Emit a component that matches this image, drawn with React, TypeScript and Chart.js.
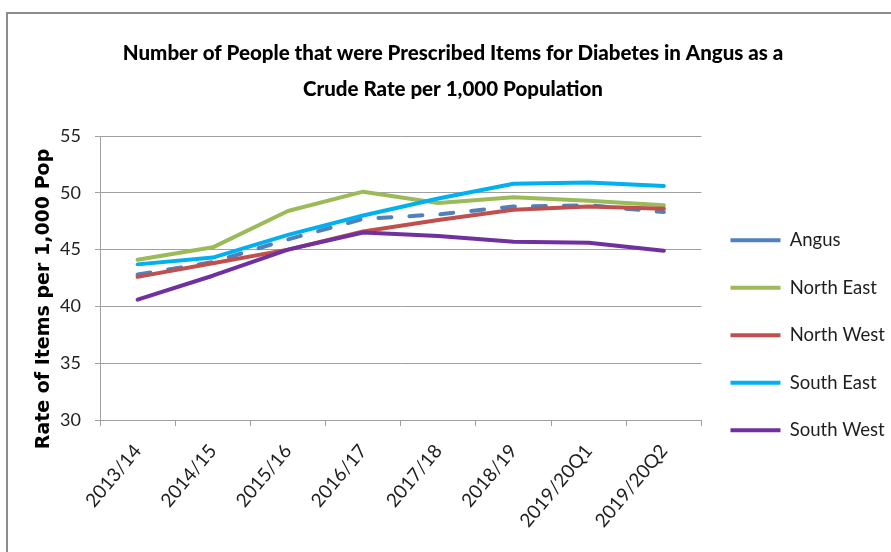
import React, { useEffect, useRef } from "react";
import { Chart, registerables } from "chart.js";

Chart.register(...registerables);

// Reporting periods on the category axis
const periods = [
  "2013/14",
  "2014/15",
  "2015/16",
  "2016/17",
  "2017/18",
  "2018/19",
  "2019/20Q1",
  "2019/20Q2",
];

// Crude rate per 1,000 population, by area
const angus = [42.8, 43.9, 45.9, 47.7, 48.1, 48.8, 48.9, 48.3];
const northEast = [44.1, 45.2, 48.4, 50.1, 49.1, 49.6, 49.3, 48.9];
const northWest = [42.6, 43.8, 45.0, 46.6, 47.6, 48.5, 48.8, 48.6];
const southEast = [43.7, 44.3, 46.3, 48.0, 49.5, 50.8, 50.9, 50.6];
const southWest = [40.6, 42.7, 45.0, 46.5, 46.2, 45.7, 45.6, 44.9];

const yTicks = { min: 30, max: 55, step: 5 };

const titleLines = [
  "Number of People that were Prescribed Items for Diabetes in Angus as a",
  "Crude Rate per 1,000 Population",
];
const yTitle = "Rate of Items per 1,000 Pop";

const SANS = "Lato, 'Noto Sans', sans-serif";
const GRID = "#a0a0a0";
const TEXT = "#1e1e1e";

// White page with a grey outline around the chart
const framePlugin = {
  id: "frame",
  beforeDraw(chart: Chart) {
    const { ctx, width, height } = chart;
    ctx.save();
    ctx.fillStyle = "#ffffff";
    ctx.fillRect(0, 0, width, height);
    ctx.strokeStyle = "#8c8c8c";
    ctx.lineWidth = 2;
    ctx.strokeRect(7, 13, width + 20, height + 20);
    ctx.restore();
  },
};

// Vertical caption for the value axis, set a little below the axis middle
const yCaptionPlugin = {
  id: "yCaption",
  afterDraw(chart: Chart) {
    const { ctx, chartArea } = chart;
    const y = chart.scales.y;
    ctx.save();
    ctx.translate(y.left + 33, (chartArea.top + chartArea.bottom) / 2 + 21);
    ctx.rotate(-Math.PI / 2);
    ctx.fillStyle = "#000";
    ctx.font = "bold 19px 'DejaVu Sans', sans-serif";
    ctx.textAlign = "center";
    ctx.textBaseline = "middle";
    ctx.fillText(yTitle, 0, 0);
    ctx.restore();
  },
};

function series(label: string, data: number[], color: string, order: number, dash: number[] = []) {
  return {
    label,
    data,
    borderColor: color,
    backgroundColor: color,
    borderWidth: 4,
    borderDash: dash,
    borderCapStyle: "round" as const,
    borderJoinStyle: "round" as const,
    pointRadius: 0,
    pointHoverRadius: 0,
    tension: 0,
    fill: false,
    order,
  };
}

export default function App() {
  const canvasRef = useRef<HTMLCanvasElement>(null);

  useEffect(() => {
    document.body.style.margin = "0";
    const canvas = canvasRef.current;
    if (!canvas) return;

    const chart = new Chart(canvas, {
      type: "line",
      data: {
        labels: periods,
        datasets: [
          series("Angus", angus, "#4f81bd", 5, [13, 18]),
          series("North East", northEast, "#9bbb59", 4),
          series("North West", northWest, "#c0504d", 3),
          series("South East", southEast, "#00b0f0", 2),
          series("South West", southWest, "#7030a0", 1),
        ],
      },
      options: {
        responsive: false,
        animation: false,
        events: [],
        layout: { padding: { left: 11, right: -4, top: 0, bottom: 0 } },
        plugins: {
          title: {
            display: true,
            text: titleLines,
            color: "#000",
            font: { family: SANS, size: 20.5, weight: "900", lineHeight: "36px" },
            padding: { top: 35, bottom: 29 },
          },
          legend: {
            position: "right",
            align: "start",
            title: {
              display: true,
              text: " ",
              font: { size: 10, lineHeight: 1 },
              padding: { top: 192, bottom: 0 },
            },
            labels: {
              usePointStyle: true,
              pointStyle: "line",
              pointStyleWidth: 50,
              boxHeight: 10,
              padding: 29,
              color: TEXT,
              font: { family: SANS, size: 18.5 },
              sort: (a: any, b: any) => a.datasetIndex - b.datasetIndex,
            },
          },
          tooltip: { enabled: false },
        },
        scales: {
          x: {
            offset: true,
            grid: {
              display: true,
              offset: true,
              drawOnChartArea: false,
              drawTicks: true,
              tickLength: 6,
              color: GRID,
            },
            border: { display: true, color: GRID },
            ticks: {
              minRotation: 50,
              maxRotation: 50,
              padding: 14,
              color: TEXT,
              font: { family: SANS, size: 19 },
            },
            afterFit: (scale: any) => {
              scale.height = 132;
            },
          },
          y: {
            min: yTicks.min,
            max: yTicks.max,
            ticks: {
              stepSize: yTicks.step,
              padding: 14,
              color: TEXT,
              font: { family: SANS, size: 18 },
            },
            grid: { color: GRID, tickLength: 5 },
            border: { display: true, color: GRID },
            afterFit: (scale: any) => {
              scale.width = 89;
            },
          },
        },
      },
      plugins: [framePlugin, yCaptionPlugin],
    });

    return () => chart.destroy();
  }, []);

  return (
    <div style={{ width: 891, height: 552, overflow: "hidden" }}>
      <canvas ref={canvasRef} width={891} height={552} style={{ display: "block" }} />
    </div>
  );
}
